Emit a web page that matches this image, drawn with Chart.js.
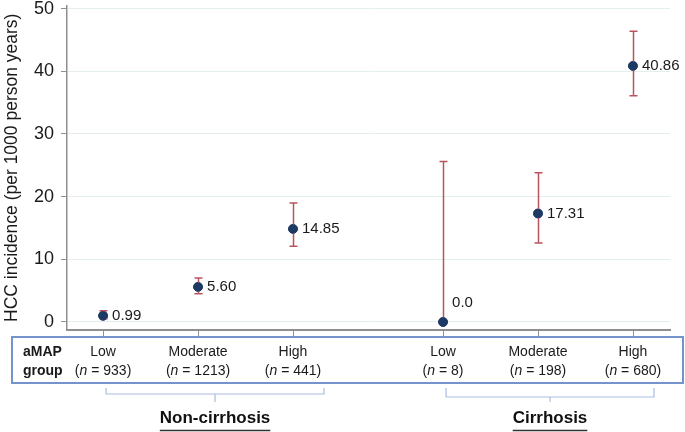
<!DOCTYPE html>
<html>
<head>
<meta charset="utf-8">
<script src="https://cdn.jsdelivr.net/npm/chart.js@4/dist/chart.umd.min.js"></script>
<style>
  html, body { margin: 0; padding: 0; background: #fff; }
  #wrap { width: 685px; height: 432px; }
</style>
</head>
<body>
<div id="wrap"><canvas id="hccChart" width="685" height="432"></canvas></div>
<script>
// aMAP groups (non-cirrhosis then cirrhosis)
const groups = ['Low', 'Moderate', 'High', 'Low', 'Moderate', 'High'];
const counts = ['933', '1213', '441', '8', '198', '680'];
const xPos = [1, 2, 3, 4.58, 5.58, 6.58];
const incidence = [0.99, 5.60, 14.85, 0.0, 17.31, 40.86];
const lower = [0.5, 4.5, 12.1, 0.0, 12.6, 36.1];
const upper = [1.8, 7.0, 19.0, 25.6, 23.8, 46.4];
const pointLabels = ['0.99', '5.60', '14.85', '0.0', '17.31', '40.86'];
const yTicks = [0, 10, 20, 30, 40, 50];
const cohorts = [
  { name: 'Non-cirrhosis', from: 0, to: 2 },
  { name: 'Cirrhosis', from: 3, to: 5 }
];

const FONT = '"Liberation Sans", Arial, Helvetica, sans-serif';

// error bars, value labels, the group table and the braces
const extrasPlugin = {
  id: 'extras',
  afterDatasetsDraw(chart) {
    const ctx = chart.ctx;
    const xs = chart.scales.x;
    const ys = chart.scales.y;
    ctx.save();
    ctx.strokeStyle = '#b9545e';
    ctx.lineWidth = 1.5;
    for (let i = 0; i < xPos.length; i++) {
      const x = Math.round(xs.getPixelForValue(xPos[i])) + 0.5;
      const yl = ys.getPixelForValue(lower[i]);
      const yh = ys.getPixelForValue(upper[i]);
      ctx.beginPath();
      ctx.moveTo(x, yl); ctx.lineTo(x, yh);
      ctx.moveTo(x - 4, yh); ctx.lineTo(x + 4, yh);
      if (lower[i] > 0) { ctx.moveTo(x - 4, yl); ctx.lineTo(x + 4, yl); }
      ctx.stroke();
    }
    ctx.restore();
  },
  afterDraw(chart) {
    const ctx = chart.ctx;
    const xs = chart.scales.x;
    const ys = chart.scales.y;
    const area = chart.chartArea;
    ctx.save();

    // redraw points on top of error bars
    ctx.fillStyle = '#1d3a64';
    for (let i = 0; i < xPos.length; i++) {
      ctx.beginPath();
      ctx.arc(xs.getPixelForValue(xPos[i]), ys.getPixelForValue(incidence[i]), 4.5, 0, Math.PI * 2);
      ctx.fill();
    }

    // value labels
    ctx.fillStyle = '#1a1a1a';
    ctx.font = '15px ' + FONT;
    ctx.textBaseline = 'middle';
    ctx.textAlign = 'left';
    for (let i = 0; i < xPos.length; i++) {
      const x = xs.getPixelForValue(xPos[i]);
      const y = ys.getPixelForValue(incidence[i]);
      if (incidence[i] === 0) ctx.fillText(pointLabels[i], x + 9, y - 19);
      else ctx.fillText(pointLabels[i], x + 9, y);
    }

    // x tick marks under the axis
    ctx.strokeStyle = '#8f8f8f';
    ctx.lineWidth = 1;
    for (let i = 0; i < xPos.length; i++) {
      const x = Math.round(xs.getPixelForValue(xPos[i])) + 0.5;
      ctx.beginPath();
      ctx.moveTo(x, area.bottom);
      ctx.lineTo(x, area.bottom + 6);
      ctx.stroke();
    }

    // table box
    ctx.strokeStyle = '#7594cb';
    ctx.lineWidth = 2;
    ctx.strokeRect(12, 337, 671, 46);

    ctx.fillStyle = '#1a1a1a';
    ctx.font = 'bold 14px ' + FONT;
    ctx.textAlign = 'left';
    ctx.fillText('aMAP', 23, 352);
    ctx.fillText('group', 23, 371);

    for (let i = 0; i < groups.length; i++) {
      const x = xs.getPixelForValue(xPos[i]);
      ctx.font = '14px ' + FONT;
      ctx.textAlign = 'center';
      ctx.fillText(groups[i], x, 352);
      // "(n = 933)" with italic n
      const a = '(';
      const b = 'n';
      const c = ' = ' + counts[i] + ')';
      ctx.font = '14px ' + FONT;
      const wa = ctx.measureText(a).width;
      const wc = ctx.measureText(c).width;
      ctx.font = 'italic 14px ' + FONT;
      const wb = ctx.measureText(b).width;
      let sx = x - (wa + wb + wc) / 2;
      ctx.textAlign = 'left';
      ctx.font = '14px ' + FONT;
      ctx.fillText(a, sx, 371);
      ctx.font = 'italic 14px ' + FONT;
      ctx.fillText(b, sx + wa, 371);
      ctx.font = '14px ' + FONT;
      ctx.fillText(c, sx + wa + wb, 371);
    }

    // braces and cohort names
    ctx.strokeStyle = '#a9bde2';
    ctx.lineWidth = 1.2;
    cohorts.forEach((g, k) => {
      const x1 = xs.getPixelForValue(xPos[g.from]) + 3;
      const x2 = xs.getPixelForValue(xPos[g.to]) + (k === 0 ? 31 : 21);
      const yb = k === 0 ? 394 : 397;
      const mid = (x1 + x2) / 2;
      ctx.beginPath();
      ctx.moveTo(x1, 388); ctx.lineTo(x1, yb); ctx.lineTo(x2, yb); ctx.lineTo(x2, 388);
      ctx.moveTo(mid, yb); ctx.lineTo(mid, 402);
      ctx.stroke();

      ctx.fillStyle = '#111';
      ctx.font = 'bold 17px ' + FONT;
      ctx.textAlign = 'center';
      ctx.fillText(g.name, mid, 418);
      const w = ctx.measureText(g.name).width;
      ctx.strokeStyle = '#333';
      ctx.lineWidth = 1.5;
      ctx.beginPath();
      ctx.moveTo(mid - w / 2, 430.5); ctx.lineTo(mid + w / 2, 430.5);
      ctx.stroke();
      ctx.strokeStyle = '#a9bde2';
      ctx.lineWidth = 1.2;
    });

    ctx.restore();
  }
};

const ctx = document.getElementById('hccChart').getContext('2d');
new Chart(ctx, {
  type: 'scatter',
  data: {
    datasets: [
      {
        label: 'HCC incidence',
        data: xPos.map((x, i) => ({ x: x, y: incidence[i] })),
        backgroundColor: '#1d3a64',
        borderColor: '#1d3a64',
        pointRadius: 4.5,
        pointHoverRadius: 4.5
      }
    ]
  },
  options: {
    responsive: false,
    animation: false,
    layout: { padding: { top: 0, right: 15, bottom: 102, left: 0 } },
    plugins: {
      legend: { display: false },
      tooltip: { enabled: false }
    },
    scales: {
      x: {
        type: 'linear',
        min: 0.62,
        max: 6.97,
        grid: { display: false, drawTicks: false },
        border: { display: true, color: '#8f8f8f', width: 2 },
        ticks: { display: false }
      },
      y: {
        min: -1.28,
        max: 50.5,
        afterBuildTicks: (scale) => { scale.ticks = yTicks.map((v) => ({ value: v })); },
        afterFit: (scale) => {
          scale.width = 67;
          scale.paddingTop = 0;
          scale.paddingBottom = 0;
        },
        grid: { color: '#e5eeee', tickColor: '#8f8f8f', tickLength: 6, lineWidth: 1 },
        border: { display: true, color: '#8f8f8f', width: 1.5 },
        ticks: { color: '#1a1a1a', font: { family: FONT, size: 18 }, padding: 7 },
        title: {
          display: true,
          text: 'HCC incidence (per 1000 person years)',
          color: '#1a1a1a',
          font: { family: FONT, size: 17.5 },
          padding: { top: 2, bottom: 0 }
        }
      }
    }
  },
  plugins: [extrasPlugin]
});
</script>
</body>
</html>
